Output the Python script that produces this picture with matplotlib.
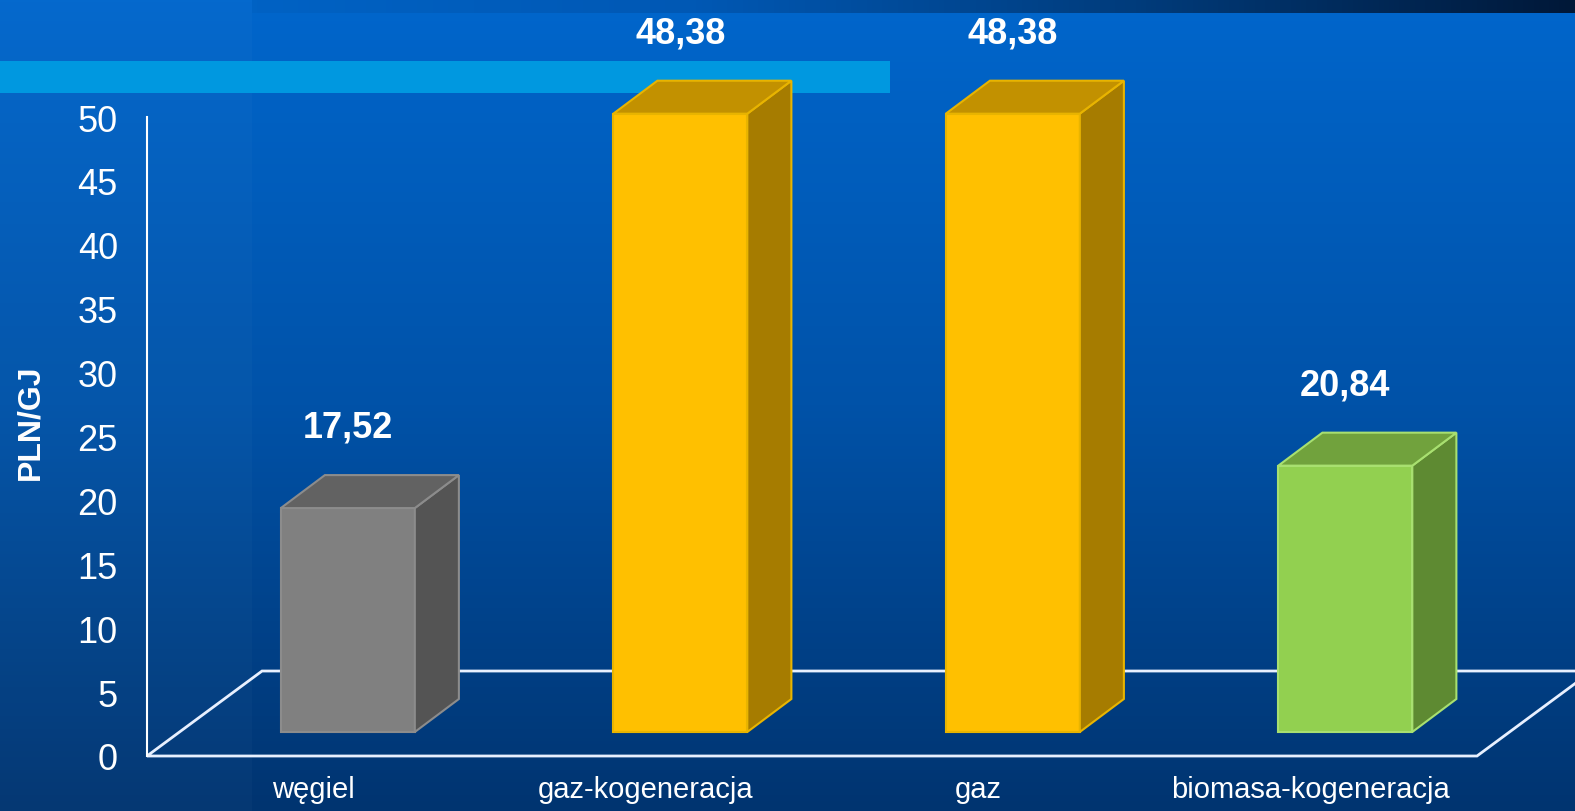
import numpy as np
import matplotlib.pyplot as plt
from matplotlib.patches import Polygon, Rectangle
from matplotlib.colors import LinearSegmentedColormap

plt.rcParams['font.family'] = ['Liberation Sans', 'DejaVu Sans']

categories = ['węgiel', 'gaz-kogeneracja', 'gaz', 'biomasa-kogeneracja']
values = [17.52, 48.38, 48.38, 20.84]
value_labels = ['17,52', '48,38', '48,38', '20,84']
yticks = list(range(0, 55, 5))

front_colors = ['#808080', '#FFC000', '#FFC000', '#92D050']
side_colors = ['#545454', '#A67C00', '#A67C00', '#5E8A32']
top_colors = ['#626262', '#C29100', '#C29100', '#71A23D']
edge_colors = ['#8C8C8C', '#E8B400', '#E8B400', '#A8E070']

W, H = 1575, 812
fig = plt.figure(figsize=(W / 100, H / 100), dpi=100)

# ---- background decoration (pixel space) ----
bg = fig.add_axes([0, 0, 1, 1], zorder=-10)
bg.set_xlim(0, W)
bg.set_ylim(H, 0)
bg.axis('off')
grad = np.linspace(0, 1, 256)[:, None]
cmap = LinearSegmentedColormap.from_list('bg', ['#0066cc', '#0052a8', '#003470'])
bg.imshow(grad, extent=[0, W, H, 0], cmap=cmap, aspect='auto', zorder=0)
bg.add_patch(Rectangle((0, 0), 252, H, color='white', alpha=0.022, zorder=1, lw=0))
hgrad = np.linspace(0, 1, 256)[None, :]
hcmap = LinearSegmentedColormap.from_list('top', ['#0062c4', '#0058b4', '#003c7c', '#001838'])
bg.imshow(hgrad, extent=[252, W, 14, 0], cmap=hcmap, aspect='auto', zorder=2)
bg.add_patch(Rectangle((0, 62), 890, 32, color='#0098e0', zorder=3, lw=0))

# ---- main axes ----
ax = fig.add_axes([147 / W, 55 / H, 1330 / W, 639 / H])
ax.set_xlim(0, 4)
ax.set_ylim(0, 50)
ax.patch.set_alpha(0)
for s in ['top', 'right', 'bottom']:
    ax.spines[s].set_visible(False)
ax.spines['left'].set_color('white')
ax.spines['left'].set_linewidth(1.5)
ax.set_yticks(yticks)
ax.set_yticklabels([str(t) for t in yticks], fontsize=26, color='white')
ax.set_xticks(np.arange(len(categories)) + 0.5)
ax.set_xticklabels(categories, fontsize=21, color='white')
ax.tick_params(axis='y', length=0, pad=21)
ax.tick_params(axis='x', length=0, pad=14)

# floor
fdx, fdy = 0.346, 6.65
floor = Polygon([(0, 0), (4, 0), (4 + fdx, fdy), (fdx, fdy)], closed=True,
                fill=False, edgecolor='#e8f0ff', lw=2, clip_on=False, zorder=1)
ax.add_patch(floor)

# bars
bdx, bdy = 0.1325, 2.58
shift, y0, bw = 0.104, 1.88, 0.403
for i, v in enumerate(values):
    cx = i + 0.5 + shift
    x0, x1 = cx - bw / 2, cx + bw / 2
    y1 = y0 + v
    ec = edge_colors[i]
    front = Polygon([(x0, y0), (x1, y0), (x1, y1), (x0, y1)], closed=True,
                    fc=front_colors[i], ec=ec, lw=1.5, clip_on=False, zorder=3)
    side = Polygon([(x1, y0), (x1 + bdx, y0 + bdy), (x1 + bdx, y1 + bdy), (x1, y1)], closed=True,
                   fc=side_colors[i], ec=ec, lw=1.5, clip_on=False, zorder=3)
    top = Polygon([(x0, y1), (x1, y1), (x1 + bdx, y1 + bdy), (x0 + bdx, y1 + bdy)], closed=True,
                  fc=top_colors[i], ec=ec, lw=1.5, clip_on=False, zorder=3)
    for p in (front, side, top):
        ax.add_patch(p)
    ax.text(cx, v + 8.2, value_labels[i], ha='center', va='center', fontsize=26,
            fontweight='bold', color='white', clip_on=False, zorder=4)

fig.text(30 / W, 1 - 422 / H, 'PLN/GJ', rotation=90, ha='center', va='center',
         fontsize=23, fontweight='bold', color='white')

fig.savefig('out.png', dpi=100)
